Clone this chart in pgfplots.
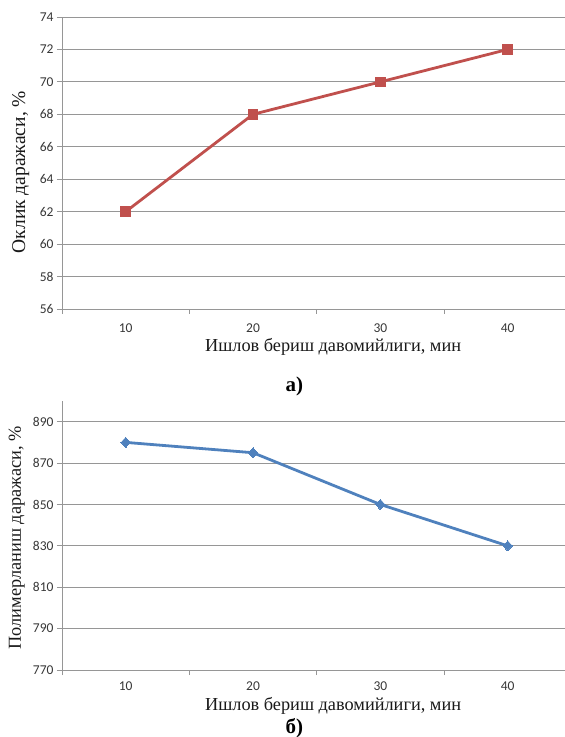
\documentclass[border=0pt]{standalone}
\usepackage{pgfplots}
\pgfplotsset{compat=1.18}
\usepackage{fontspec}
\setmainfont{Liberation Serif}
\newfontfamily\tickfont{Carlito}
\definecolor{redline}{RGB}{192,80,77}
\definecolor{blueline}{RGB}{79,129,189}
\definecolor{gridc}{RGB}{150,150,150}
\definecolor{tickc}{RGB}{55,55,55}
\definecolor{labc}{RGB}{25,25,25}
\pgfplotsset{
  myaxis/.style={
    scale only axis,
    anchor=south west,
    width=503pt,
    axis lines*=left,
    axis line style={draw=gridc, line width=0.8pt},
    xmin=0.5, xmax=4.45,
    xtick={1,2,3,4},
    xticklabels={10,20,30,40},
    minor xtick={0.5,1.5,2.5,3.5},
    major x tick style={draw=none},
    minor x tick style={draw=gridc, line width=0.8pt},
    y tick style={draw=gridc, line width=0.8pt},
    tick align=outside,
    major tick length=5pt,
    minor tick length=5pt,
    ymajorgrids,
    grid style={draw=gridc, line width=0.8pt},
    /pgf/number format/assume math mode=true,
    ticklabel style={font=\tickfont\fontsize{13.5}{13.5}\selectfont, text=tickc},
    label style={font=\fontsize{18.3}{18.3}\selectfont, text=labc},
    clip=false,
  }
}
\begin{document}
\begin{tikzpicture}[x=1pt,y=1pt]
\useasboundingbox (0,0) rectangle (565,737);
% top chart
\begin{axis}[myaxis,
  at={(62pt,428pt)},
  height=292pt,
  ymin=56, ymax=74,
  ytick={56,58,...,74},
  xticklabel style={yshift=-6pt},
  xlabel={Ишлов бериш давомийлиги, мин},
  xlabel style={at={(axis description cs:0.539,-0.130)}, anchor=center},
  ylabel={Оклик даражаси, \%},
  ylabel style={at={(axis description cs:-0.082,0.469)}, anchor=center, font=\fontsize{19.5}{19.5}\selectfont},
]
\addplot[color=redline, line width=2.8pt, mark=square*, mark size=4.8pt, mark options={solid, fill=redline, draw=redline, line width=0pt}]
  coordinates {(1,62) (2,68) (3,70) (4,72)};
\node[font=\bfseries\fontsize{21}{21}\selectfont, text=black] at (axis description cs:0.462,-0.265) {а)};
\end{axis}
% bottom chart
\begin{axis}[myaxis,
  at={(62pt,67pt)},
  height=269pt,
  ymin=770, ymax=900,
  ytick={770,790,...,890},
  xticklabel style={yshift=-3pt},
  xlabel={Ишлов бериш давомийлиги, мин},
  xlabel style={at={(axis description cs:0.539,-0.134)}, anchor=center},
  ylabel={Полимерланиш даражаси, \%},
  ylabel style={at={(axis description cs:-0.090,0.491)}, anchor=center},
]
\addplot[color=blueline, line width=2.8pt, mark=diamond*, mark size=5pt, mark options={solid, fill=blueline, draw=blueline, line width=0pt, xscale=1.25}]
  coordinates {(1,880) (2,875) (3,850) (4,830)};
\node[font=\bfseries\fontsize{21}{21}\selectfont, text=black] at (axis description cs:0.462,-0.215) {б)};
\end{axis}
\end{tikzpicture}
\end{document}
